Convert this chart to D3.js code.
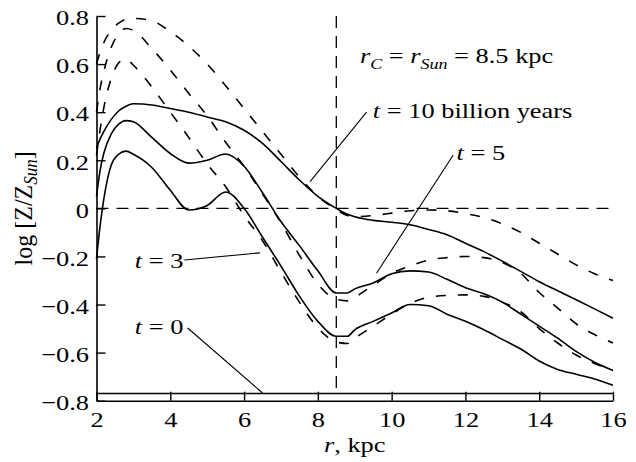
<!DOCTYPE html>
<html>
<head>
<meta charset="utf-8">
<script src="https://cdn.jsdelivr.net/npm/d3@7"></script>
<style>
  html, body { margin: 0; padding: 0; background: #fff; }
  svg { display: block; font-family: "Liberation Serif", "Times New Roman", serif; }
</style>
</head>
<body>
<svg id="chart" width="636" height="462"></svg>
<script>
// Galactocentric radius grid, kpc
const radius = [2, 2.1, 2.2, 2.4, 2.6, 2.8, 3, 3.5, 4, 4.5, 5, 5.5, 6, 6.5, 7, 7.5, 8, 8.5, 8.8,
                9, 9.5, 10, 10.5, 11, 11.5, 12, 12.5, 13, 13.5, 14, 14.5, 15, 15.5, 16];

// log[Z/Z_Sun] profiles, solid model
const solidT10 = [0.25, 0.29, 0.32, 0.37, 0.405, 0.425, 0.435, 0.43, 0.415, 0.40, 0.38, 0.36, 0.325, 0.27,
                  0.195, 0.118, 0.05, 0.0, -0.025, -0.035, -0.05, -0.058, -0.068, -0.088, -0.11, -0.145,
                  -0.18, -0.22, -0.262, -0.305, -0.343, -0.38, -0.418, -0.457];
const solidT5  = [0.05, 0.16, 0.23, 0.31, 0.35, 0.365, 0.36, 0.295, 0.228, 0.188, 0.20, 0.226, 0.175, 0.065,
                  -0.055, -0.155, -0.26, -0.352, -0.352, -0.335, -0.31, -0.272, -0.26, -0.265, -0.295, -0.33,
                  -0.355, -0.39, -0.44, -0.49, -0.54, -0.595, -0.64, -0.674];
const solidT3  = [-0.21, -0.07, 0.04, 0.18, 0.225, 0.238, 0.225, 0.17, 0.075, -0.007, 0.012, 0.068, 0.0, -0.12,
                  -0.24, -0.365, -0.47, -0.532, -0.532, -0.505, -0.47, -0.435, -0.40, -0.405, -0.44, -0.47,
                  -0.505, -0.545, -0.585, -0.635, -0.67, -0.69, -0.71, -0.736];

// log[Z/Z_Sun] profiles, dashed model
const dashedT10 = [0.60, 0.65, 0.69, 0.74, 0.77, 0.787, 0.79, 0.78, 0.735, 0.675, 0.60, 0.51, 0.415, 0.32,
                   0.225, 0.13, 0.05, -0.005, -0.03, -0.035, -0.03, -0.02, -0.01, -0.007, -0.01, -0.022,
                   -0.038, -0.065, -0.1, -0.145, -0.19, -0.235, -0.272, -0.30];
const dashedT5  = [0.40, 0.50, 0.57, 0.67, 0.725, 0.748, 0.74, 0.665, 0.575, 0.478, 0.385, 0.275, 0.175, 0.06,
                   -0.06, -0.195, -0.315, -0.378, -0.385, -0.37, -0.32, -0.27, -0.24, -0.215, -0.205, -0.20,
                   -0.205, -0.225, -0.27, -0.35, -0.415, -0.48, -0.525, -0.56];
const dashedT3  = [0.22, 0.33, 0.42, 0.54, 0.605, 0.622, 0.595, 0.505, 0.40, 0.295, 0.185, 0.09, -0.03, -0.135,
                   -0.265, -0.39, -0.497, -0.556, -0.562, -0.54, -0.49, -0.44, -0.395, -0.37, -0.362, -0.36,
                   -0.366, -0.39, -0.43, -0.5, -0.56, -0.61, -0.645, -0.675];

// initial (t = 0) uniform metallicity
const initialLevel = -0.77;
const solarRadius = 8.5;

const xTicks = [2, 4, 6, 8, 10, 12, 14, 16];
const yTicks = [-0.8, -0.6, -0.4, -0.2, 0, 0.2, 0.4, 0.6, 0.8];

// Time labels: text anchor (r, value) and leader from -> to, in data units
const timeLabels = [
  { t: "10 billion years", at: [9.49, 0.375], from: [9.32, 0.40], to: [7.79, 0.111] },
  { t: "5",                at: [11.76, 0.201], from: [11.67, 0.222], to: [9.59, -0.27] },
  { t: "3",                at: [3.04, -0.249], from: [4.38, -0.215], to: [6.43, -0.185] },
  { t: "0",                at: [3.04, -0.521], from: [4.47, -0.4975], to: [6.5, -0.768] }
];
const radiusNoteAt = [9.14, 0.605];

const svg = d3.select("#chart");
const x = d3.scaleLinear().domain([2, 16]).range([96.5, 613]);
const y = d3.scaleLinear().domain([-0.8, 0.8]).range([400.7, 16]);
const STRETCH = 1.2;   // glyphs are set slightly wide
const FONT = 22;

const fmt = v => (v === 0 ? "0" : d3.format(".1f")(v));

// Left axis, ticks pointing inward
const gy = svg.append("g")
  .attr("transform", `translate(${x(2)},0)`)
  .call(d3.axisLeft(y).tickValues(yTicks).tickSize(-9).tickSizeOuter(0).tickPadding(7).tickFormat(fmt));
gy.attr("font-size", FONT).attr("font-family", null);
gy.select(".domain").attr("stroke-width", 1.6);
gy.selectAll(".tick line").attr("stroke-width", 1.4);
gy.selectAll(".tick text")
  .attr("x", -7.5 / STRETCH)
  .attr("dy", "0.4em")
  .attr("transform", `scale(${STRETCH},1)`)
  .attr("fill", "#000");

// Bottom axis, ticks pointing inward
const gx = svg.append("g")
  .attr("transform", `translate(0,${y(-0.8)})`)
  .call(d3.axisBottom(x).tickValues(xTicks).tickSize(-9).tickSizeOuter(0).tickPadding(11).tickFormat(d3.format("d")));
gx.attr("font-size", FONT).attr("font-family", null);
gx.select(".domain").attr("stroke-width", 1.6);
gx.selectAll(".tick line").attr("stroke-width", 1.4);
gx.selectAll(".tick text")
  .attr("transform", `scale(${STRETCH},1)`)
  .attr("fill", "#000");

// Reference lines: solar metallicity and solar radius
svg.append("line")
  .attr("x1", x(2)).attr("x2", x(16)).attr("y1", y(0)).attr("y2", y(0))
  .attr("stroke", "#000").attr("stroke-width", 1.3).attr("stroke-dasharray", "12,8");
svg.append("line")
  .attr("x1", x(solarRadius)).attr("x2", x(solarRadius)).attr("y1", y(0.8)).attr("y2", y(initialLevel))
  .attr("stroke", "#000").attr("stroke-width", 1.3).attr("stroke-dasharray", "12,8");

// t = 0 level
svg.append("line")
  .attr("x1", x(2)).attr("x2", x(16)).attr("y1", y(initialLevel)).attr("y2", y(initialLevel))
  .attr("stroke", "#000").attr("stroke-width", 1.5);

// Gradient curves
const line = d3.line()
  .x(d => x(d[0]))
  .y(d => y(d[1]))
  .curve(d3.curveMonotoneX);

const curves = [
  { values: dashedT10, dashed: true },
  { values: dashedT5,  dashed: true },
  { values: dashedT3,  dashed: true },
  { values: solidT10,  dashed: false },
  { values: solidT5,   dashed: false },
  { values: solidT3,   dashed: false }
];

svg.append("g").selectAll("path")
  .data(curves)
  .join("path")
  .attr("d", c => line(radius.map((r, i) => [r, c.values[i]])))
  .attr("fill", "none")
  .attr("stroke", "#000")
  .attr("stroke-width", 1.6)
  .attr("stroke-linejoin", "round")
  .attr("stroke-dasharray", c => (c.dashed ? "10,12" : null));

// Text helper: horizontally widened text placed at a pixel anchor
function wideText(px, py, size) {
  return svg.append("g")
    .attr("transform", `translate(${px},${py}) scale(${STRETCH},1)`)
    .append("text")
    .attr("font-size", size)
    .attr("fill", "#000");
}

// Leaders and time labels
const ann = svg.append("g");
timeLabels.forEach(l => {
  ann.append("line")
    .attr("x1", x(l.from[0])).attr("y1", y(l.from[1]))
    .attr("x2", x(l.to[0])).attr("y2", y(l.to[1]))
    .attr("stroke", "#000").attr("stroke-width", 1.1);
  const txt = wideText(x(l.at[0]), y(l.at[1]), FONT);
  txt.append("tspan").attr("font-style", "italic").text("t");
  txt.append("tspan").text(" = " + l.t);
});

// r_C = r_Sun = 8.5 kpc
const rc = wideText(x(radiusNoteAt[0]), y(radiusNoteAt[1]), FONT);
rc.append("tspan").attr("font-style", "italic").text("r");
rc.append("tspan").attr("font-style", "italic").attr("font-size", 15).attr("dy", 6).text("C");
rc.append("tspan").attr("dy", -6).text(" = ");
rc.append("tspan").attr("font-style", "italic").text("r");
rc.append("tspan").attr("font-style", "italic").attr("font-size", 15).attr("dy", 6).text("Sun");
rc.append("tspan").attr("dy", -6).text(" = 8.5 kpc");

// x axis title
const xt = wideText((x(2) + x(16)) / 2, 452, FONT).attr("text-anchor", "middle");
xt.append("tspan").attr("font-style", "italic").text("r");
xt.append("tspan").text(", kpc");

// y axis title
const yt = svg.append("g")
  .attr("transform", `translate(32,${(y(0.8) + y(-0.8)) / 2}) rotate(-90) scale(1,1.08)`)
  .append("text")
  .attr("font-size", 24)
  .attr("text-anchor", "middle")
  .attr("fill", "#000");
yt.append("tspan").text("log [Z/Z");
yt.append("tspan").attr("font-style", "italic").attr("font-size", 17).attr("dy", 5).text("Sun");
yt.append("tspan").attr("dy", -5).text("]");
</script>
</body>
</html>
